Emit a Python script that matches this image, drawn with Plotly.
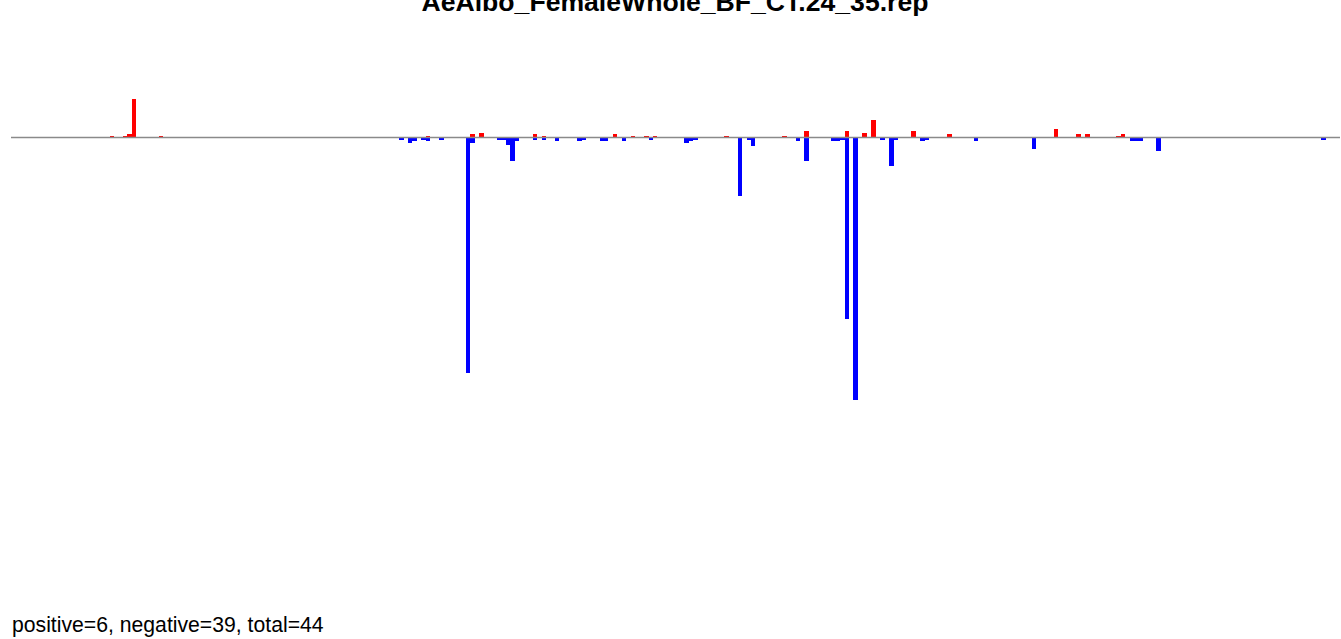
import plotly.graph_objects as go

# Data (bar index along the sequence, score values)
title_text = "AeAlbo_FemaleWhole_BF_CT.24_35.rep"
footer_text = "positive=6, negative=39, total=44"

red_idx = [0, 3, 4, 5, 11, 71, 81, 83, 95, 97, 113, 117, 120, 122, 138, 151, 156,
           165, 169, 171, 180, 188, 212, 217, 219, 226, 227]
red_val = [0.15, 0.15, 0.35, 3.85, 0.15, 0.15, 0.35, 0.45, 0.35, 0.15, 0.35, 0.15,
           0.15, 0.15, 0.15, 0.15, 0.65, 0.65, 0.45, 1.75, 0.65, 0.35, 0.85, 0.35,
           0.35, 0.15, 0.35]

blue_idx = [65, 67, 68, 70, 71, 74, 80, 81, 87, 88, 89, 90, 91, 95, 97, 100, 105, 106,
            110, 111, 115, 121, 129, 130, 131, 141, 143, 144, 154, 156, 162, 163, 164,
            165, 167, 173, 175, 176, 182, 183, 194, 207, 229, 230, 231, 235, 272]
blue_val = [-0.22, -0.55, -0.32, -0.22, -0.32, -0.22, -23.55, -0.55, -0.22, -0.22,
            -0.75, -2.35, -0.32, -0.22, -0.22, -0.32, -0.32, -0.22, -0.32, -0.32,
            -0.32, -0.22, -0.52, -0.32, -0.22, -5.85, -0.22, -0.82, -0.32, -2.32,
            -0.32, -0.32, -0.22, -18.15, -26.25, -0.22, -2.82, -0.22, -0.35, -0.25,
            -0.35, -1.15, -0.35, -0.35, -0.35, -1.35, -0.25]

FONT = "Liberation Sans, Arial, sans-serif"

fig = go.Figure()
fig.add_trace(go.Bar(x=red_idx, y=red_val, width=1, marker=dict(color="#FF0000", line=dict(width=0)),
                     showlegend=False, hoverinfo="x+y"))
fig.add_trace(go.Bar(x=blue_idx, y=blue_val, width=1, marker=dict(color="#0000FF", line=dict(width=0)),
                     showlegend=False, hoverinfo="x+y"))

# baseline
fig.add_shape(type="line", xref="paper", yref="y", x0=11/1341, x1=1340/1341, y0=0, y1=0,
              line=dict(color="#8a8a8a", width=1.5), layer="above")

fig.add_annotation(text=footer_text, xref="paper", yref="paper", x=10/1341, y=-25/560,
                   xanchor="left", yanchor="middle", showarrow=False,
                   font=dict(family=FONT, size=21.2, color="#000000"))

fig.update_layout(
    width=1341, height=639,
    margin=dict(l=0, r=0, t=40, b=39),
    paper_bgcolor="white", plot_bgcolor="white",
    barmode="overlay", bargap=0,
    title=dict(text="<b>" + title_text + "</b>", x=675/1341, xanchor="center",
               xref="container", yref="container", y=1 - 1.9/639, yanchor="middle",
               font=dict(family=FONT, size=26.6, color="#000000")),
    xaxis=dict(range=[-25.08, 275.93], visible=False, showgrid=False, zeroline=False),
    yaxis=dict(range=[-46.25, 9.75], visible=False, showgrid=False, zeroline=False),
)

fig.write_html("out.html",
               config={"displayModeBar": False},
               post_script=["document.body.style.margin='0';document.body.style.overflow='hidden';"])
